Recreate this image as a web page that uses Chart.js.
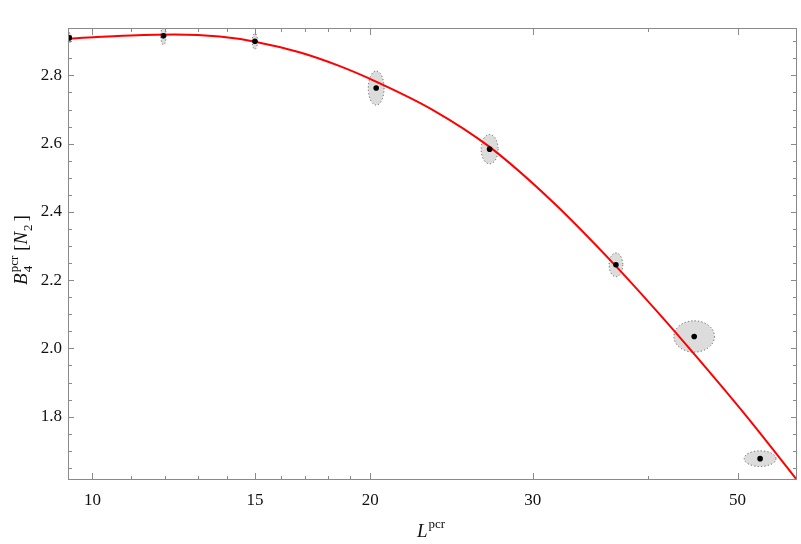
<!DOCTYPE html>
<html><head><meta charset="utf-8">
<script src="https://cdn.jsdelivr.net/npm/chart.js@4/dist/chart.umd.min.js"></script>
<style>html,body{margin:0;padding:0;background:#fff;overflow:hidden}</style>
</head><body>
<div style="width:801px;height:544px;position:relative"><canvas id="c"></canvas></div>
<script>
// Data points (L^pcr, B4^pcr) with error-ellipse half-axes
const pointL = [9.44, 11.94, 15.0, 20.3, 26.94, 36.92, 44.88, 52.9];
const pointB = [2.910, 2.916, 2.900, 2.763, 2.584, 2.245, 2.035, 1.677];
const errL   = [0.05, 0.08, 0.10, 0.40, 0.57, 0.63, 2.27, 2.10];
const errB   = [0.015, 0.026, 0.023, 0.050, 0.043, 0.035, 0.046, 0.023];
// Fit curve
const fitL = [9.41, 11.0, 12.28, 13.74, 15.0, 16.76, 18.51, 20.29, 23.34, 26.89, 31.46, 36.89, 40.95, 45.42, 51.35, 56.86, 58.0];
const fitB = [2.908, 2.917, 2.920, 2.914, 2.899, 2.868, 2.828, 2.782, 2.700, 2.592, 2.432, 2.242, 2.107, 1.967, 1.795, 1.644, 1.614];
// Ticks
const xMajorTicks = [10, 15, 20, 30, 50];
const xMinorTicks = [11, 12, 13, 14, 16, 17, 18, 19, 40];
const yMajorTicks = [1.8, 2.0, 2.2, 2.4, 2.6, 2.8];
const yMinorTicks = [1.65, 1.7, 1.75, 1.85, 1.9, 1.95, 2.05, 2.1, 2.15, 2.25, 2.3, 2.35, 2.45, 2.5, 2.55, 2.65, 2.7, 2.75, 2.85, 2.9];
const xRange = [9.41, 58.0];
const yRange = [1.6144, 2.939];

const SERIF = '"Liberation Serif", "Times New Roman", serif';
const FRAME = '#8a8a8a';

const ellipsePlugin = {
  id: 'ellipses',
  beforeDatasetsDraw(chart) {
    const {ctx, chartArea: a, scales: {x, y}} = chart;
    ctx.save();
    ctx.beginPath(); ctx.rect(a.left, a.top, a.right - a.left, a.bottom - a.top); ctx.clip();
    pointL.forEach((L, i) => {
      const cx = x.getPixelForValue(L), cy = y.getPixelForValue(pointB[i]);
      const rx = Math.abs(x.getPixelForValue(L + errL[i]) - x.getPixelForValue(L - errL[i])) / 2;
      const ry = Math.abs(y.getPixelForValue(pointB[i] + errB[i]) - y.getPixelForValue(pointB[i] - errB[i])) / 2;
      ctx.beginPath();
      ctx.ellipse(cx, cy, rx, ry, 0, 0, Math.PI * 2);
      ctx.fillStyle = '#dcdcdc';
      ctx.fill();
      ctx.setLineDash([1.2, 2.2]);
      ctx.strokeStyle = '#555';
      ctx.lineWidth = 0.9;
      ctx.stroke();
    });
    ctx.restore();
  }
};

const framePlugin = {
  id: 'frame',
  afterDraw(chart) {
    const {ctx, chartArea: a, scales: {x, y}} = chart;
    ctx.save();
    ctx.strokeStyle = FRAME;
    ctx.lineWidth = 1;
    ctx.strokeRect(Math.round(a.left) + 0.5, Math.round(a.top) + 0.5, Math.round(a.right - a.left) - 1, Math.round(a.bottom - a.top) - 1);
    const tick = (vals, len, horiz) => {
      vals.forEach(v => {
        ctx.beginPath();
        if (horiz) {
          const px = Math.round(x.getPixelForValue(v)) + 0.5;
          ctx.moveTo(px, a.bottom); ctx.lineTo(px, a.bottom - len);
          ctx.moveTo(px, a.top); ctx.lineTo(px, a.top + len);
        } else {
          const py = Math.round(y.getPixelForValue(v)) + 0.5;
          ctx.moveTo(a.left, py); ctx.lineTo(a.left + len, py);
          ctx.moveTo(a.right, py); ctx.lineTo(a.right - len, py);
        }
        ctx.stroke();
      });
    };
    tick(xMajorTicks, 7, true);
    tick(xMinorTicks, 4, true);
    tick(yMajorTicks, 6, false);
    tick(yMinorTicks, 4, false);

    // axis titles
    ctx.fillStyle = '#111';
    ctx.textBaseline = 'alphabetic';
    ctx.textAlign = 'left';
    // x title: L^pcr
    ctx.font = 'italic 19px ' + SERIF;
    ctx.fillText('L', 417, 537);
    const lw = ctx.measureText('L').width;
    ctx.font = '13px ' + SERIF;
    ctx.fillText('pcr', 417 + lw + 1, 528);

    // y title: B_4^pcr [N_2]
    const big = 'italic 19px ' + SERIF, bigR = '19px ' + SERIF, sm = '13px ' + SERIF;
    ctx.save();
    ctx.translate(27, 250);
    ctx.rotate(-Math.PI / 2);
    ctx.font = sm;
    const slotW = Math.max(ctx.measureText('4').width, ctx.measureText('pcr').width);
    ctx.font = big; const bW = ctx.measureText('B').width + 1;
    ctx.font = bigR; const brW = ctx.measureText(' [').width;
    ctx.font = big; const nW = ctx.measureText('N').width + 1;
    ctx.font = sm; const twoW = ctx.measureText('2').width + 3;
    ctx.font = bigR; const rbW = ctx.measureText(']').width;
    const total = bW + slotW + brW + nW + twoW + rbW;
    let cx = -total / 2;
    ctx.font = big; ctx.fillText('B', cx, 0); cx += bW;
    ctx.font = sm; ctx.fillText('4', cx, 5); ctx.fillText('pcr', cx, -9); cx += slotW;
    ctx.font = bigR; ctx.fillText(' [', cx, 0); cx += brW;
    ctx.font = big; ctx.fillText('N', cx, 0); cx += nW;
    ctx.font = sm; ctx.fillText('2', cx, 5); cx += twoW;
    ctx.font = bigR; ctx.fillText(']', cx, 0);
    ctx.restore();
    ctx.restore();
  }
};

new Chart(document.getElementById('c'), {
  type: 'scatter',
  data: {
    datasets: [
      {
        label: 'data',
        data: pointL.map((L, i) => ({x: L, y: pointB[i]})),
        pointRadius: 2.8,
        pointBackgroundColor: '#000',
        pointBorderWidth: 0,
        showLine: false
      },
      {
        label: 'fit',
        data: fitL.map((L, i) => ({x: L, y: fitB[i]})),
        showLine: true,
        pointRadius: 0,
        borderColor: '#ff0000',
        borderWidth: 2,
        cubicInterpolationMode: 'monotone'
      }
    ]
  },
  options: {
    responsive: true,
    maintainAspectRatio: false,
    animation: false,
    events: [],
    layout: {padding: {top: 28, right: 2, left: 0, bottom: 0}},
    plugins: {legend: {display: false}, tooltip: {enabled: false}},
    scales: {
      x: {
        type: 'logarithmic',
        min: xRange[0], max: xRange[1],
        afterBuildTicks: s => { s.ticks = xMajorTicks.map(v => ({value: v})); },
        afterFit: s => { s.height = 64; },
        grid: {display: false, drawTicks: false},
        border: {display: false},
        ticks: {
          autoSkip: false, maxRotation: 0,
          callback: v => String(v),
          font: {family: SERIF, size: 17},
          color: '#111',
          padding: 10
        }
      },
      y: {
        type: 'linear',
        min: yRange[0], max: yRange[1],
        afterBuildTicks: s => { s.ticks = yMajorTicks.map(v => ({value: v})); },
        afterFit: s => { s.width = 68; },
        grid: {display: false, drawTicks: false},
        border: {display: false},
        ticks: {
          autoSkip: false,
          callback: v => v.toFixed(1),
          font: {family: SERIF, size: 17},
          color: '#111',
          padding: 6
        }
      }
    }
  },
  plugins: [ellipsePlugin, framePlugin]
});
</script>
</body></html>
